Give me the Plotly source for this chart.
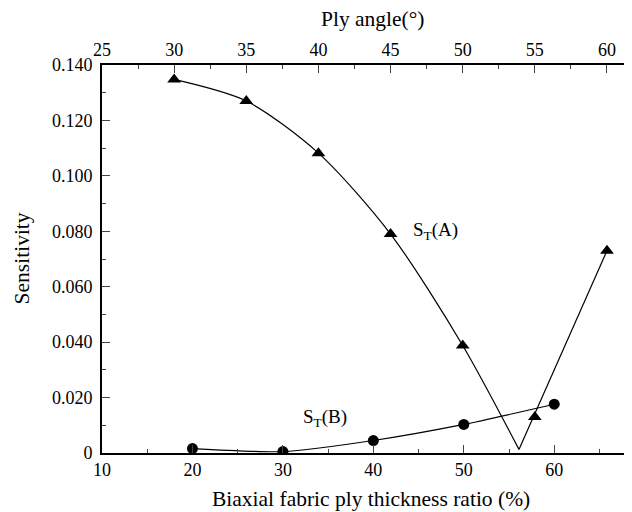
import plotly.graph_objects as go

# Series A (triangles) plotted against ply angle (top axis)
a_angle = [30, 35, 40, 45, 50, 55, 60]
a_sens = [0.1348, 0.1270, 0.1082, 0.0790, 0.0388, 0.0130, 0.0730]
# fitted curve for A: smooth part and V-shaped part
a_fit_smooth_angle = [30, 35, 40, 45, 50, 53.9]
a_fit_smooth_val = [0.1348, 0.1270, 0.1082, 0.0790, 0.0388, 0.0013]
a_fit_lin_angle = [53.9, 60]
a_fit_lin_val = [0.0013, 0.0730]

# Series B (circles) plotted against biaxial ratio (bottom axis)
b_ratio = [20, 30, 40, 50, 60]
b_sens = [0.0016, 0.0005, 0.0045, 0.0103, 0.0176]

y_tickvals = [0, 0.02, 0.04, 0.06, 0.08, 0.10, 0.12, 0.14]
y_ticktext = ["0", "0.020", "0.040", "0.060", "0.080", "0.100", "0.120", "0.140"]
x_bottom_ticks = [10, 20, 30, 40, 50, 60, 70]
x_top_ticks = [25, 30, 35, 40, 45, 50, 55, 60]

FONT = "Liberation Serif, Times New Roman, serif"
OFF = 8  # page body margin
W, H = 632, 512
# plot area in page pixels (reference): left 102.3, top 65, bottom 453.5
L = 102.3 - OFF
T = 65 - OFF
B = H - (453.5 - OFF)
R = 0

fig = go.Figure()

fig.add_trace(go.Scatter(x=b_ratio, y=b_sens, mode="lines", line=dict(color="black", width=1.2, shape="spline", smoothing=0.6),
                         xaxis="x", yaxis="y", showlegend=False, hoverinfo="skip"))
fig.add_trace(go.Scatter(x=b_ratio, y=b_sens, mode="markers", marker=dict(symbol="circle", size=11, color="black"),
                         xaxis="x", yaxis="y", showlegend=False))

fig.add_trace(go.Scatter(x=a_fit_smooth_angle, y=a_fit_smooth_val, mode="lines",
                         line=dict(color="black", width=1.2, shape="spline", smoothing=0.8),
                         xaxis="x2", yaxis="y", showlegend=False, hoverinfo="skip"))
fig.add_trace(go.Scatter(x=a_fit_lin_angle, y=a_fit_lin_val, mode="lines",
                         line=dict(color="black", width=1.2),
                         xaxis="x2", yaxis="y", showlegend=False, hoverinfo="skip"))
fig.add_trace(go.Scatter(x=a_angle, y=a_sens, mode="markers", marker=dict(symbol="triangle-up", size=12, color="black"),
                         xaxis="x2", yaxis="y", showlegend=False))

plot_w = W - L - R
plot_h = H - T - B
bot_px_per_unit = 9.04
top_px_per_unit = 14.42
x_max = 10 + plot_w / bot_px_per_unit
x2_max = 25 + plot_w / top_px_per_unit

tickfont = dict(family=FONT, size=18, color="black")


def px_x(page_x):
    return (page_x - OFF - L) / plot_w


def px_y(page_y):
    return (H - B - (page_y - OFF)) / plot_h


fig.update_layout(
    width=W, height=H,
    margin=dict(l=L, r=R, t=T, b=B, autoexpand=False),
    paper_bgcolor="white", plot_bgcolor="white",
    font=dict(family=FONT, color="black"),
    xaxis=dict(range=[10, x_max], tickvals=x_bottom_ticks, ticks="inside", ticklen=8, tickwidth=1.2,
               showline=True, linecolor="black", linewidth=1.6, mirror=False, showgrid=False, zeroline=False,
               tickfont=tickfont, ticklabelstandoff=0, automargin=False,
               minor=dict(ticks="inside", ticklen=4, dtick=5, tick0=10, tickwidth=1.2, showgrid=False)),
    xaxis2=dict(range=[25, x2_max], overlaying="x", side="top", anchor="y", tickvals=x_top_ticks,
                ticks="inside", ticklen=8, tickwidth=1.2,
                showline=True, linecolor="black", linewidth=1.6, showgrid=False, zeroline=False,
                tickfont=tickfont, ticklabelstandoff=0, automargin=False,
                minor=dict(ticks="inside", ticklen=4, dtick=2.5, tick0=25, tickwidth=1.2, showgrid=False)),
    yaxis=dict(range=[0, 0.14], tickvals=y_tickvals, ticktext=y_ticktext, ticks="inside", ticklen=8, tickwidth=1.2,
               showline=True, linecolor="black", linewidth=1.6, showgrid=False, zeroline=False,
               tickfont=tickfont, ticklabelstandoff=4, automargin=False,
               minor=dict(ticks="inside", ticklen=4, dtick=0.01, tick0=0, tickwidth=1.2, showgrid=False)),
    annotations=[
        dict(text="Biaxial fabric ply thickness ratio (%)", xref="paper", yref="paper", x=px_x(371),
             y=px_y(500), xanchor="center", yanchor="middle", showarrow=False,
             font=dict(family=FONT, size=21.5)),
        dict(text="Ply angle(°)", xref="paper", yref="paper", x=px_x(373.5),
             y=px_y(19), xanchor="center", yanchor="middle", showarrow=False,
             font=dict(family=FONT, size=21.5)),
        dict(text="Sensitivity", xref="paper", yref="paper", x=px_x(22),
             y=px_y(259), xanchor="center", yanchor="middle", textangle=-90, showarrow=False,
             font=dict(family=FONT, size=21.5)),
        dict(text="S<sub>T</sub>(A)", xref="x2", yref="y", x=48.1, y=0.0800, xanchor="center", yanchor="middle",
             showarrow=False, font=dict(family=FONT, size=19)),
        dict(text="S<sub>T</sub>(B)", xref="x", yref="y", x=34.6, y=0.0128, xanchor="center", yanchor="middle",
             showarrow=False, font=dict(family=FONT, size=19)),
    ],
)

fig.write_html("out.html")
